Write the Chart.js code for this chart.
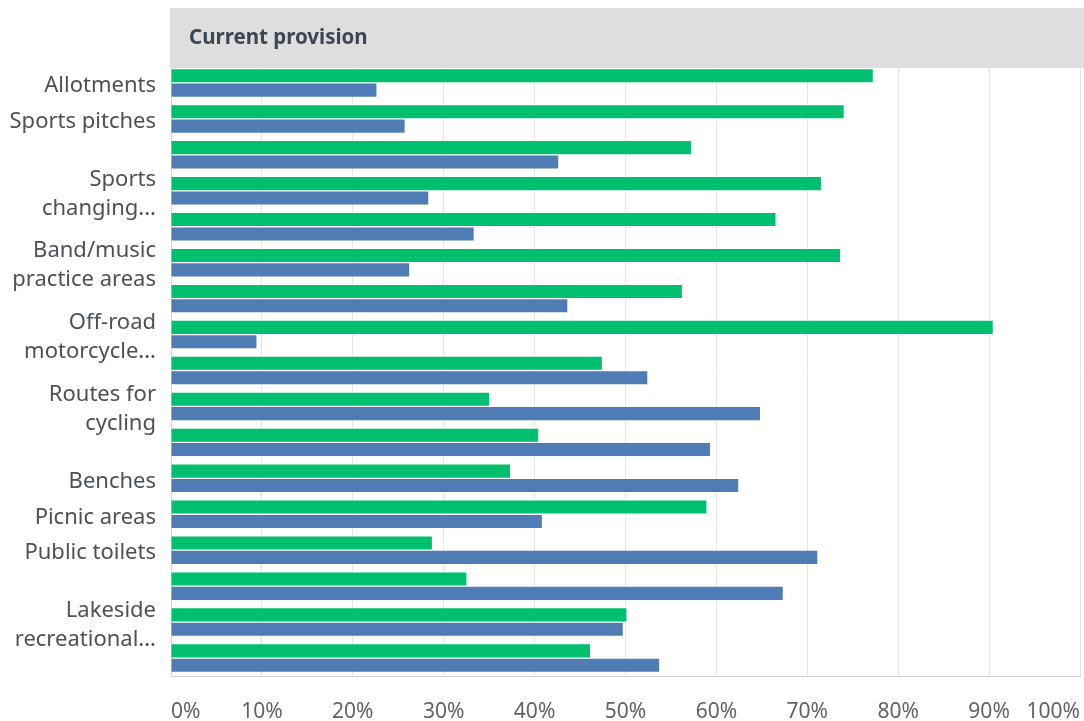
<!DOCTYPE html>
<html>
<head>
<meta charset="utf-8">
<title>Current provision</title>
<script src="https://cdn.jsdelivr.net/npm/chart.js@4"></script>
<style>
    body { margin: 0; background: #fff; }
    #wrap { position: relative; width: 1084px; height: 721px; }
</style>
</head>
<body>
<div id="wrap"><canvas id="provision-chart"></canvas></div>
<script>
// Chart data (labels that are skipped in the original are left blank)
const chartTitle = 'Current provision';
const categories = [
    'Allotments', 'Sports pitches', '', ['Sports', 'changing...'], '',
    ['Band/music', 'practice areas'], '', ['Off-road', 'motorcycle...'], '',
    ['Routes for', 'cycling'], '', 'Benches', 'Picnic areas', 'Public toilets', '',
    ['Lakeside', 'recreational...'], ''
];
const greenValues = [77.2, 74.0, 57.2, 71.5, 66.5, 73.6, 56.2, 90.4, 47.4, 35.0, 40.4, 37.3, 58.9, 28.7, 32.5, 50.1, 46.1];
const blueValues = [22.6, 25.7, 42.6, 28.3, 33.3, 26.2, 43.6, 9.4, 52.4, 64.8, 59.3, 62.4, 40.8, 71.1, 67.3, 49.7, 53.7];
const xTickValues = [0, 10, 20, 30, 40, 50, 60, 70, 80, 90, 100];

// Gray header band with the title, drawn behind the bars
const headerBand = {
    id: 'headerBand',
    beforeDatasetsDraw(chart) {
        const { ctx, chartArea } = chart;
        ctx.save();
        ctx.fillStyle = '#dedede';
        ctx.fillRect(chartArea.left - 1, 8, chart.width - chartArea.left + 1, 60);
        ctx.fillStyle = '#3d4651';
        ctx.font = 'bold 20.5px "Noto Sans"';
        ctx.textBaseline = 'middle';
        ctx.textAlign = 'left';
        ctx.fillText(chartTitle, chartArea.left + 18, 38);
        ctx.restore();
    }
};

const ctx = document.getElementById('provision-chart').getContext('2d');

new Chart(ctx, {
    type: 'bar',
    data: {
        labels: categories,
        datasets: [{
            label: 'Series 1',
            data: greenValues,
            backgroundColor: '#00bf6f',
            categoryPercentage: 0.8,
            barPercentage: 0.91
        }, {
            label: 'Series 2',
            data: blueValues,
            backgroundColor: '#507cb6',
            categoryPercentage: 0.8,
            barPercentage: 0.91
        }]
    },
    plugins: [headerBand],
    options: {
        indexAxis: 'y',
        responsive: true,
        maintainAspectRatio: false,
        animation: false,
        layout: {
            padding: { top: 65, right: 4, bottom: 0, left: 0 }
        },
        plugins: {
            legend: { display: false },
            title: { display: false },
            tooltip: { enabled: false }
        },
        scales: {
            x: {
                min: 0,
                max: 100,
                afterBuildTicks: scale => {
                    scale.ticks = xTickValues.map(v => ({ value: v }));
                },
                afterFit: scale => {
                    scale.height = 45;
                    // first/last labels are aligned inwards, no side room needed
                    scale.paddingLeft = 0;
                    scale.paddingRight = 0;
                },
                grid: {
                    color: '#e6e6e6',
                    drawTicks: false
                },
                border: { display: true, color: '#d4d4d4' },
                ticks: {
                    align: 'inner',
                    padding: 23,
                    color: '#5f646a',
                    font: { family: 'Noto Sans', size: 21 },
                    callback: value => value + '%'
                }
            },
            y: {
                afterFit: scale => { scale.width = 171; },
                grid: { display: false, drawTicks: false },
                border: { display: true, color: '#d4d4d4' },
                ticks: {
                    autoSkip: false,
                    padding: 15,
                    labelOffset: 3,
                    color: '#4b5157',
                    font: { family: 'Noto Sans', size: 22, lineHeight: 1.32 }
                }
            }
        }
    }
});
</script>
</body>
</html>
